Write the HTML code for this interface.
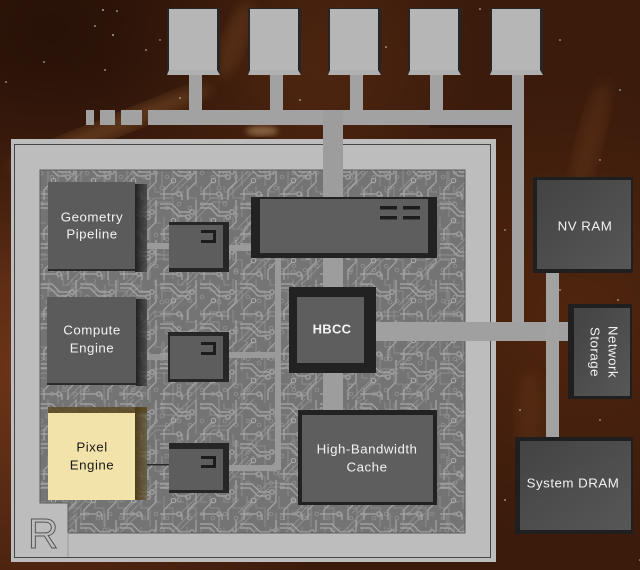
<!DOCTYPE html>
<html><head><meta charset="utf-8"><style>
html,body{margin:0;padding:0;background:#3b1b0c;}
svg{display:block;}
text{font-family:"Liberation Sans",sans-serif;}
</style></head><body>
<svg width="640" height="570" viewBox="0 0 640 570" xmlns="http://www.w3.org/2000/svg">
<defs>
  <radialGradient id="rg1" cx="0.05" cy="0.65" r="0.55">
    <stop offset="0" stop-color="#6e3619" stop-opacity="0.95"/>
    <stop offset="1" stop-color="#6e3619" stop-opacity="0"/>
  </radialGradient>
  <radialGradient id="rg2" cx="0.9" cy="0.55" r="0.4">
    <stop offset="0" stop-color="#55280f" stop-opacity="0.8"/>
    <stop offset="1" stop-color="#55280f" stop-opacity="0"/>
  </radialGradient>
  <radialGradient id="rg3" cx="0.08" cy="0.05" r="0.45">
    <stop offset="0" stop-color="#1f0d06" stop-opacity="0.7"/>
    <stop offset="1" stop-color="#1f0d06" stop-opacity="0"/>
  </radialGradient>
  <radialGradient id="rg4" cx="0.45" cy="0.12" r="0.3">
    <stop offset="0" stop-color="#5a2d12" stop-opacity="0.7"/>
    <stop offset="1" stop-color="#5a2d12" stop-opacity="0"/>
  </radialGradient>
  <filter id="blur6"><feGaussianBlur stdDeviation="6"/></filter>
  <filter id="blur3"><feGaussianBlur stdDeviation="3"/></filter>
  <pattern id="pa" width="40" height="40" patternUnits="userSpaceOnUse">
    <rect width="40" height="40" fill="#747474"/>
    <g fill="none" stroke="#a7a7a7" stroke-width="1.2">
      <path d="M0 4H12L20 12H30"/>
      <path d="M0 8H10L18 16H26"/>
      <path d="M36 0V22L28 30V40"/>
      <path d="M4 40V30L12 22"/>
      <path d="M0 34H16"/>
      <path d="M22 40V34"/>
      <circle cx="32" cy="12" r="2.2"/>
      <circle cx="28" cy="17" r="2.2"/>
      <circle cx="13.5" cy="20.5" r="2.2"/>
      <circle cx="19" cy="34" r="2.2"/>
    </g>
  </pattern>
  <pattern id="pb" width="57" height="57" patternUnits="userSpaceOnUse">
    <g fill="none" stroke="#b2b2b2" stroke-width="1.1" opacity="0.4">
      <path d="M0 20L20 0"/>
      <path d="M0 26L26 0"/>
      <path d="M10 57L40 27H57"/>
      <path d="M16 57L42 31H57"/>
      <path d="M48 0V14"/>
      <circle cx="48" cy="17" r="2"/>
      <circle cx="8" cy="44" r="2"/>
    </g>
  </pattern>
  <pattern id="pc" width="23" height="31" patternUnits="userSpaceOnUse">
    <g fill="none" stroke="#a0a0a0" stroke-width="1" opacity="0.55">
      <path d="M3 0V12H12V31"/>
      <path d="M17 0V6H23"/>
      <circle cx="6" cy="22" r="1.8"/>
      <circle cx="18" cy="18" r="1.8"/>
    </g>
  </pattern>
  <linearGradient id="side" x1="0" y1="0" x2="1" y2="0">
    <stop offset="0" stop-color="#1c1c1c" stop-opacity="0.95"/>
    <stop offset="1" stop-color="#2a2a2a" stop-opacity="0.55"/>
  </linearGradient>
  <linearGradient id="sideY" x1="0" y1="0" x2="1" y2="0">
    <stop offset="0" stop-color="#4a3a18" stop-opacity="0.95"/>
    <stop offset="1" stop-color="#5a4a22" stop-opacity="0.55"/>
  </linearGradient>
  <linearGradient id="rface" x1="0" y1="0" x2="1" y2="1">
    <stop offset="0" stop-color="#434343"/>
    <stop offset="1" stop-color="#575757"/>
  </linearGradient>
</defs>

<!-- background -->
<rect width="640" height="570" fill="#3b1b0c"/>
<rect width="640" height="570" fill="url(#rg1)"/>
<rect width="640" height="570" fill="url(#rg2)"/>
<rect width="640" height="570" fill="url(#rg4)"/>
<rect width="640" height="570" fill="url(#rg3)"/>
<ellipse cx="110" cy="128" rx="110" ry="10" transform="rotate(-22 110 128)" fill="#9a6535" opacity="0.4" filter="url(#blur6)"/>
<ellipse cx="262" cy="131" rx="16" ry="5" fill="#c8a070" opacity="0.5" filter="url(#blur3)"/>
<ellipse cx="235" cy="40" rx="12" ry="40" transform="rotate(20 235 40)" fill="#7a4a25" opacity="0.35" filter="url(#blur6)"/>
<ellipse cx="590" cy="140" rx="12" ry="60" transform="rotate(15 590 140)" fill="#6a3a1a" opacity="0.4" filter="url(#blur6)"/>
<ellipse cx="530" cy="420" rx="14" ry="50" fill="#6a3a1a" opacity="0.35" filter="url(#blur6)"/>
<g fill="#ffffff" opacity="0.8">
  <circle cx="103" cy="10" r="0.9"/><circle cx="117" cy="11" r="0.8"/><circle cx="95" cy="26" r="0.8"/>
  <circle cx="113" cy="35" r="0.9"/><circle cx="44" cy="62" r="0.8"/><circle cx="6" cy="82" r="0.8"/>
  <circle cx="105" cy="70" r="0.8"/><circle cx="146" cy="50" r="0.8"/><circle cx="160" cy="40" r="0.7"/>
  <circle cx="300" cy="20" r="0.8"/><circle cx="386" cy="47" r="0.8"/><circle cx="480" cy="9" r="0.8"/>
  <circle cx="560" cy="40" r="0.8"/><circle cx="620" cy="90" r="0.8"/><circle cx="600" cy="160" r="0.7"/>
  <circle cx="628" cy="180" r="0.8"/><circle cx="505" cy="230" r="0.7"/><circle cx="618" cy="300" r="0.8"/>
  <circle cx="600" cy="420" r="0.7"/><circle cx="520" cy="410" r="0.8"/><circle cx="505" cy="500" r="0.8"/>
  <circle cx="630" cy="520" r="0.8"/><circle cx="300" cy="100" r="0.8"/><circle cx="450" cy="120" r="0.8"/>
  <circle cx="180" cy="98" r="0.8"/><circle cx="560" cy="290" r="0.7"/><circle cx="640" cy="560" r="0.8"/>
</g>

<!-- top memory boxes -->
<g>
  <rect x="167" y="8" width="53" height="67" fill="#262626"/>
  <rect x="169" y="9" width="48" height="63" fill="#b6b6b6"/>
  <polygon points="169,70 217,70 220,75 167,75" fill="#b0b0b0"/>
  <rect x="248" y="8" width="53" height="67" fill="#262626"/>
  <rect x="250" y="9" width="48" height="63" fill="#b6b6b6"/>
  <polygon points="250,70 298,70 301,75 248,75" fill="#b0b0b0"/>
  <rect x="328" y="8" width="53" height="67" fill="#262626"/>
  <rect x="330" y="9" width="48" height="63" fill="#b6b6b6"/>
  <polygon points="330,70 378,70 381,75 328,75" fill="#b0b0b0"/>
  <rect x="408" y="8" width="53" height="67" fill="#262626"/>
  <rect x="410" y="9" width="48" height="63" fill="#b6b6b6"/>
  <polygon points="410,70 458,70 461,75 408,75" fill="#b0b0b0"/>
  <rect x="490" y="8" width="53" height="67" fill="#262626"/>
  <rect x="492" y="9" width="48" height="63" fill="#b6b6b6"/>
  <polygon points="492,70 540,70 543,75 490,75" fill="#b0b0b0"/>
</g>
<!-- stems and bus -->
<g fill="#a2a2a2">
  <rect x="189" y="75" width="13" height="36"/>
  <rect x="270" y="75" width="13" height="36"/>
  <rect x="350" y="75" width="13" height="36"/>
  <rect x="430" y="75" width="13" height="36"/>
  <rect x="148" y="110" width="376" height="15"/>
  <rect x="86" y="110" width="8" height="15"/>
  <rect x="100" y="110" width="15" height="15"/>
  <rect x="121" y="110" width="21" height="15"/>
</g>
<rect x="430" y="125" width="82" height="3" fill="#1e0d06" opacity="0.5"/>

<!-- chip frame -->
<rect x="11" y="139" width="485" height="423" fill="#bdbdbd"/>
<rect x="14.5" y="144.5" width="476" height="413" fill="none" stroke="#454545" stroke-width="1"/>
<polygon points="40,170 465,170 465,533 68,533 68,503 40,503" fill="url(#pa)"/>
<polygon points="40,170 465,170 465,533 68,533 68,503 40,503" fill="url(#pb)"/>
<polygon points="40,170 465,170 465,533 68,533 68,503 40,503" fill="url(#pc)"/>
<polygon points="40,170 465,170 465,533 68,533 68,503 40,503" fill="none" stroke="#5a5a5a" stroke-width="1"/>
<path d="M68 533V557" stroke="#9a9a9a" stroke-width="1"/>
<text x="28" y="548" font-size="42" fill="#bdbdbd" stroke="#555" stroke-width="1">R</text>

<!-- PCB light traces -->
<g fill="#9a9a9a">
  <rect x="275" y="258" width="6" height="212"/>
  <rect x="229" y="245" width="46" height="6"/>
  <rect x="229" y="352" width="46" height="6"/>
  <rect x="229" y="465" width="48" height="6"/>
  <rect x="147" y="243" width="22" height="6"/>
  <rect x="147" y="354" width="22" height="6" opacity="0.8"/>
</g>
<rect x="147" y="464" width="22" height="1.5" fill="#2a2a2a"/>

<!-- buses over chip -->
<rect x="323" y="110" width="20" height="300" fill="#9d9d9d"/>
<rect x="512" y="75" width="12" height="266" fill="#a2a2a2"/>
<rect x="376" y="322" width="196" height="19" fill="#a0a0a0"/>
<rect x="546" y="270" width="13" height="170" fill="#a2a2a2"/>

<!-- left engine blocks -->
<rect x="135" y="184" width="12" height="88" fill="url(#side)"/>
<rect x="48" y="182" width="87" height="88" fill="#5b5b5b"/>
<rect x="48" y="269" width="89" height="2" fill="#2a2a2a"/>
<rect x="136" y="299" width="11" height="87" fill="url(#side)"/>
<rect x="47" y="297" width="89" height="87" fill="#5b5b5b"/>
<rect x="47" y="383" width="90" height="2" fill="#2a2a2a"/>
<rect x="48" y="407" width="99" height="6" fill="#5a4a22" opacity="0.85"/>
<rect x="135" y="407" width="12" height="93" fill="url(#sideY)"/>
<rect x="48" y="413" width="87" height="87" fill="#f1e3a9"/>

<!-- small blocks -->
<rect x="169" y="222" width="60" height="50" fill="#262626"/>
<rect x="169" y="225" width="54" height="43" fill="#5d5d5d"/>
<path d="M201 230H216V243H201V240H213V233H201Z" fill="#1c1c1c"/>
<rect x="168" y="332" width="61" height="50" fill="#262626"/>
<rect x="170" y="336" width="53" height="43" fill="#5d5d5d"/>
<path d="M201 342H216V355H201V352H213V345H201Z" fill="#1c1c1c"/>
<rect x="169" y="443" width="60" height="50" fill="#262626"/>
<rect x="169" y="449" width="54" height="41" fill="#5d5d5d"/>
<path d="M201 456H216V468H201V465H213V459H201Z" fill="#1c1c1c"/>

<!-- big top block -->
<rect x="251" y="197" width="186" height="61" fill="#222"/>
<rect x="260" y="199" width="168" height="54" fill="#5e5e5e"/>
<g fill="#1c1c1c">
  <rect x="380" y="206" width="17" height="3.5"/>
  <rect x="403" y="206" width="17" height="3.5"/>
  <rect x="380" y="216" width="17" height="3.5"/>
  <rect x="403" y="216" width="17" height="3.5"/>
</g>

<!-- HBCC -->
<rect x="289" y="287" width="87" height="86" fill="#222"/>
<rect x="297" y="297" width="67" height="66" fill="#5e5e5e"/>

<!-- HB Cache -->
<rect x="298" y="410" width="139" height="95" fill="#222"/>
<rect x="302" y="415" width="131" height="87" fill="#5e5e5e"/>

<!-- right blocks -->
<rect x="533" y="177" width="100" height="96" fill="#1f1f1f"/>
<rect x="537" y="180" width="94" height="89" fill="url(#rface)"/>
<rect x="568" y="304" width="64" height="95" fill="#1f1f1f"/>
<rect x="574" y="308" width="56" height="88" fill="url(#rface)"/>
<rect x="515" y="437" width="118" height="97" fill="#1f1f1f"/>
<rect x="520" y="441" width="111" height="89" fill="url(#rface)"/>

<!-- labels -->
<g font-size="13.3" fill="#f2f2f2" text-anchor="middle" letter-spacing="0.5">
  <text x="92" y="221.5">Geometry</text>
  <text x="92" y="238.5">Pipeline</text>
  <text x="92" y="334.5">Compute</text>
  <text x="92" y="352.5">Engine</text>
  <text x="367" y="453.5">High-Bandwidth</text>
  <text x="367" y="471.5">Cache</text>
  <text x="585" y="230.5">NV RAM</text>
  <text x="573" y="487.5">System DRAM</text>
  <text transform="translate(613 352) rotate(90)" y="4.5">Network</text>
  <text transform="translate(595 352) rotate(90)" y="4.5">Storage</text>
</g>
<text x="332" y="333.5" font-size="13" font-weight="bold" fill="#f4f4f4" text-anchor="middle" letter-spacing="0.3">HBCC</text>
<g font-size="13.3" fill="#1a1a1a" text-anchor="middle" letter-spacing="0.5">
  <text x="92" y="451.5">Pixel</text>
  <text x="92" y="469.5">Engine</text>
</g>
</svg>
</body></html>
